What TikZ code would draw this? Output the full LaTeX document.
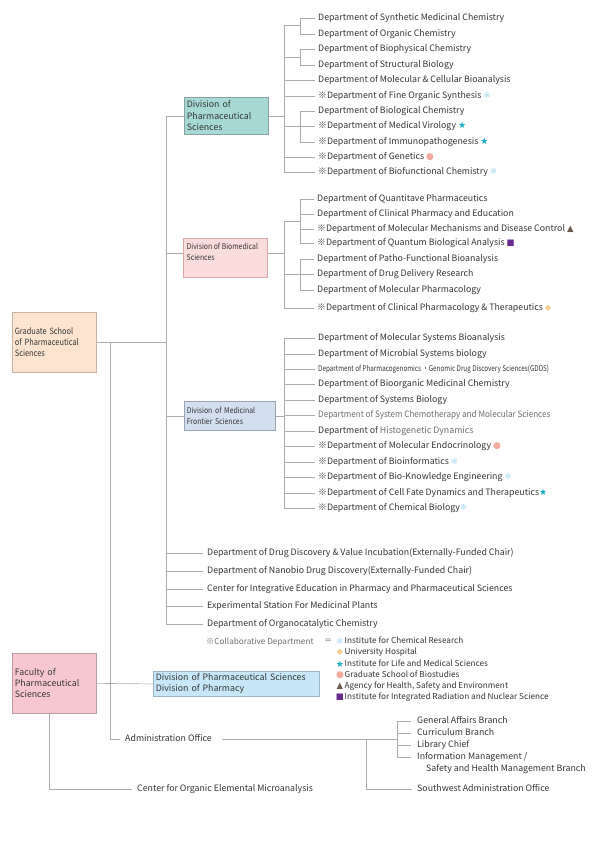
\documentclass[tikz,border=0pt]{standalone}
\usepackage{fontspec}
\usepackage{graphicx}
\setmainfont{Noto Sans CJK JP}
\newfontfamily\dejavu{DejaVu Sans}
\newfontfamily\condfont[FakeStretch=0.86]{Noto Sans CJK JP}
\newfontfamily\mcondfont[FakeStretch=0.92]{Noto Sans CJK JP}
\newfontfamily\vcondfont[FakeStretch=0.8]{Noto Sans CJK JP}
\usetikzlibrary{calc}
\definecolor{txt}{HTML}{353535}
\definecolor{ltxt}{HTML}{6E6E6E}
\definecolor{lncol}{HTML}{ABABAB}
\definecolor{csnow}{HTML}{A9DCF2}
\definecolor{cstar}{HTML}{16AFC6}
\definecolor{ccirc}{HTML}{F2A89A}
\definecolor{cdia}{HTML}{F9CF95}
\definecolor{ctri}{HTML}{6B5A4E}
\definecolor{csq}{HTML}{6A2C91}
\definecolor{fpharm}{HTML}{A6D8D4}
\definecolor{bpharm}{HTML}{8AA09E}
\definecolor{fbio}{HTML}{FBDCDC}
\definecolor{bbio}{HTML}{D9A8A8}
\definecolor{fmed}{HTML}{D3DEEF}
\definecolor{bmed}{HTML}{98A2B6}
\definecolor{fgrad}{HTML}{FDE4D0}
\definecolor{bgrad}{HTML}{C9B2A2}
\definecolor{ffac}{HTML}{F7C7D0}
\definecolor{bfac}{HTML}{B89CA2}
\definecolor{fpp}{HTML}{C7E7F8}
\definecolor{bpp}{HTML}{9FB6C2}
\newcommand\deptfont{\fontsize{8.8}{10}\selectfont}
\newcommand\smfont{\fontsize{8.2}{10}\selectfont}
\newcommand\symsnow{{\dejavu\fontsize{8.5}{8}\selectfont\textcolor{csnow}{❄}}}
\newcommand\symstar{{\dejavu\fontsize{9}{8}\selectfont\textcolor{cstar}{★}}}
\newcommand\symcirc{{\dejavu\fontsize{9}{8}\selectfont\textcolor{ccirc}{●}}}
\newcommand\symdia{{\dejavu\fontsize{8.5}{8}\selectfont\textcolor{cdia}{◆}}}
\newcommand\symtri{{\dejavu\fontsize{8.5}{8}\selectfont\textcolor{ctri}{▲}}}
\newcommand\symsq{{\dejavu\fontsize{8.5}{8}\selectfont\textcolor{csq}{■}}}
\newcommand\dtick[3][3pt]{\draw[ln] (#2.west -| #3) -- ([xshift=-#1]#2.west);}
\tikzset{
  ln/.style={draw=lncol, line width=0.6pt},
  dept/.style={anchor=west, inner sep=0pt, text height=6.5pt, text depth=1.8pt, text=txt, font=\deptfont},
  sm/.style={dept, font=\smfont},
  sym/.style={anchor=center, inner sep=0pt},
  box/.style={draw, line width=0.7pt, anchor=north west, inner sep=2.5pt, align=left, text=txt}
}
\begin{document}
\begin{tikzpicture}[x=1pt,y=-1pt]
\fill[white] (0,0) rectangle (595,842);
\useasboundingbox (0,0) rectangle (595,842);
% reference x positions
\coordinate (M) at (166,0);
\coordinate (L) at (110,0);
\coordinate (X) at (284,0);
\coordinate (Y) at (300,0);
\coordinate (F) at (49,0);
\coordinate (R1) at (397,0);
\coordinate (R2) at (366,0);
% ---------- boxes
\node[box, fill=fpharm, draw=bpharm, minimum width=84pt, minimum height=37pt, text width=79pt, font=\fontsize{8.8}{11.5}\selectfont] (p1) at (184,97) {Division of\\Pharmaceutical\\Sciences};
\node[box, fill=fbio, draw=bbio, minimum width=84pt, minimum height=39pt] (p2) at (183,238) {};
\node[anchor=base west, inner sep=0pt, align=left, text=txt, font=\condfont\fontsize{8}{10.3}\selectfont] (p2t) at (186.5,260) {Division of Biomedical\\Sciences};
\node[box, fill=fmed, draw=bmed, minimum width=91pt, minimum height=29pt, text width=86pt, font=\condfont\fontsize{8}{11}\selectfont] (p3) at (184,401) {Division of Medicinal\\Frontier Sciences};
\node[box, fill=fgrad, draw=bgrad, minimum width=84pt, minimum height=60pt, text width=79pt, font=\condfont\fontsize{8.6}{10.8}\selectfont] (g) at (12,312) {Graduate School\\of Pharmaceutical\\Sciences};
\node[box, fill=ffac, draw=bfac, minimum width=84pt, minimum height=60pt, text width=79pt, font=\fontsize{8.8}{11}\selectfont] (fac) at (12,653) {Faculty of\\Pharmaceutical\\Sciences};
\node[box, fill=fpp, draw=bpp, minimum width=166pt, minimum height=24pt, text width=161pt, font=\fontsize{8.8}{11}\selectfont] (pp) at (153,671) {Division of Pharmaceutical Sciences\\Division of Pharmacy};
% ---------- division 1
\node[dept] (a1) at (318,18) {Department of Synthetic Medicinal Chemistry};
\node[dept] (a2) at (318,34) {Department of Organic Chemistry};
\node[dept] (a3) at (318,49) {Department of Biophysical Chemistry};
\node[dept] (a4) at (318,65) {Department of Structural Biology};
\node[dept] (a5) at (318,80) {Department of Molecular \& Cellular Bioanalysis};
\node[dept] (a6) at (318,96) {※Department of Fine Organic Synthesis \symsnow};
\node[dept] (a7) at (318,111) {Department of Biological Chemistry};
\node[dept] (a8) at (318,126) {※Department of Medical Virology \symstar};
\node[dept] (a9) at (318,142) {※Department of Immunopathogenesis \symstar};
\node[dept] (a10) at (318,157) {※Department of Genetics \symcirc};
\node[dept] (a11) at (318,172) {※Department of Biofunctional Chemistry \symsnow};
\coordinate (jA) at (284,25);
\coordinate (jB) at (284,57);
\draw[ln] (jA) -- (a11.west -| X);
\draw[ln] (p1.east) -- (p1.east -| X);
\draw[ln] (jA) -- (jA -| Y);
\draw[ln] (jB) -- (jB -| Y);
\draw[ln] (a1.west -| Y) -- (a2.west -| Y);
\draw[ln] (a3.west -| Y) -- (a4.west -| Y);
\draw[ln] (a7.west -| Y) -- (a9.west -| Y);
\dtick{a1}{Y}\dtick{a2}{Y}\dtick{a3}{Y}\dtick{a4}{Y}
\dtick{a5}{X}\dtick{a6}{X}
\dtick{a7}{Y}\dtick{a8}{X}\dtick{a9}{Y}
\dtick{a10}{X}\dtick{a11}{X}
% ---------- division 2
\node[dept] (b1) at (317,199) {Department of Quantitave Pharmaceutics};
\node[dept] (b2) at (317,214) {Department of Clinical Pharmacy and Education};
\node[dept] (b3) at (317,229) {※Department of Molecular Mechanisms and Disease Control \symtri};
\node[dept] (b4) at (317,243) {※Department of Quantum Biological Analysis \symsq};
\node[dept] (b5) at (317,259) {Department of Patho-Functional Bioanalysis};
\node[dept] (b6) at (317,274) {Department of Drug Delivery Research};
\node[dept] (b7) at (317,290) {Department of Molecular Pharmacology};
\node[dept] (b8) at (317,308) {※Department of Clinical Pharmacology \& Therapeutics \symdia};
\coordinate (jC) at (284,221);
\coordinate (c2) at (0,253);
\draw[ln] (jC) -- (b8.west -| X);
\draw[ln] (jC) -- (jC -| Y);
\draw[ln] (b1.west -| Y) -- (b4.west -| Y);
\draw[ln] (b5.west -| Y) -- (b7.west -| Y);
\draw[ln] (c2 -| p2.east) -- (c2 -| X);
\dtick{b1}{Y}\dtick{b2}{Y}\dtick{b3}{Y}\dtick{b4}{Y}
\dtick{b5}{Y}\dtick{b6}{X}\dtick{b7}{Y}\dtick{b8}{X}
% ---------- division 3
\node[dept] (m1) at (318,338) {Department of Molecular Systems Bioanalysis};
\node[dept] (m2) at (318,354) {Department of Microbial Systems biology};
\node[dept, font=\vcondfont\fontsize{7.9}{10}\selectfont] (m3) at (318,369) {Department of Pharmacogenomics\ ・Genomic Drug Discovery Sciences(GDDS)};
\node[dept] (m4) at (318,384) {Department of Bioorganic Medicinal Chemistry};
\node[dept] (m5) at (318,400) {Department of Systems Biology};
\node[dept, text=ltxt, font=\mcondfont\fontsize{8.8}{10}\selectfont] (m6) at (318,415) {Department of System Chemotherapy and Molecular Sciences};
\node[dept] (m7) at (318,431) {Department of \textcolor{ltxt}{Histogenetic Dynamics}};
\node[dept] (m8) at (318,446) {※Department of Molecular Endocrinology \symcirc};
\node[dept] (m9) at (318,462) {※Department of Bioinformatics \symsnow};
\node[dept] (m10) at (318,477) {※Department of Bio-Knowledge Engineering \symsnow};
\node[dept] (m11) at (318,493) {※Department of Cell Fate Dynamics and Therapeutics\symstar};
\node[dept] (m12) at (318,508) {※Department of Chemical Biology\symsnow};
\draw[ln] (m1.west -| X) -- (m12.west -| X);
\draw[ln] (p3.east) -- (p3.east -| X);
\foreach \i in {1,...,12}{\dtick{m\i}{X}}
% ---------- bottom list
\node[dept] (e1) at (207,553) {Department of Drug Discovery \& Value Incubation(Externally-Funded Chair)};
\node[dept] (e2) at (207,571) {Department of Nanobio Drug Discovery(Externally-Funded Chair)};
\node[dept] (e3) at (207,589) {Center for Integrative Education in Pharmacy and Pharmaceutical Sciences};
\node[dept] (e4) at (207,606) {Experimental Station For Medicinal Plants};
\node[dept] (e5) at (207,624) {Department of Organocatalytic Chemistry};
\foreach \i in {1,...,5}{\dtick[4pt]{e\i}{M}}
% ---------- main trunk
\draw[ln] (p1.west -| M) -- (e5.west -| M);
\draw[ln] (p1.west -| M) -- (p1.west);
\draw[ln] (c2 -| M) -- (c2 -| p2.west);
\draw[ln] (p3.west -| M) -- (p3.west);
\draw[ln] (g.east) -- (g.east -| M);
% ---------- legend
\node[sm, text=ltxt] (lg) at (206,642) {※Collaborative Department};
\node[sm, text=ltxt] (eq) at (324,641) {＝};
\node[sym] (s1) at (340,641) {\symsnow};
\node[sym] (s2) at (340,652) {\symdia};
\node[sym] (s3) at (340,664) {\symstar};
\node[sym] (s4) at (340,675) {\symcirc};
\node[sym] (s5) at (340,686) {\symtri};
\node[sym] (s6) at (340,697) {\symsq};
\node[sm] (l1) at (344.5,641) {Institute for Chemical Research};
\node[sm] (l2) at (344.5,652) {University Hospital};
\node[sm] (l3) at (344.5,664) {Institute for Life and Medical Sciences};
\node[sm] (l4) at (344.5,675) {Graduate School of Biostudies};
\node[sm] (l5) at (344.5,686) {Agency for Health, Safety and Environment};
\node[sm] (l6) at (344.5,697) {Institute for Integrated Radiation and Nuclear Science};
% ---------- faculty
\draw[ln] (fac.east) -- (pp.west);
\node[dept] (cen) at (137,789) {Center for Organic Elemental Microanalysis};
\draw[ln] (F |- fac.south) -- (F |- cen.west) -- ([xshift=-5pt]cen.west);
% ---------- administration
\node[dept] (adm) at (125,739) {Administration Office};
\draw[ln] (g.east -| L) -- (adm.west -| L) -- ([xshift=-5pt]adm.west);
\node[dept] (f1) at (417,721) {General Affairs Branch};
\node[dept] (f2) at (417,733) {Curriculum Branch};
\node[dept] (f3) at (417,745) {Library Chief};
\node[dept] (f4) at (417,757) {Information Management /};
\node[dept] (f5) at (426,769) {Safety and Health Management Branch};
\node[dept] (sw) at (417,789) {Southwest Administration Office};
\draw[ln] ([xshift=10pt]adm.east) -- (adm.east -| R1);
\draw[ln] (f1.west -| R1) -- (f4.west -| R1);
\foreach \i in {1,...,4}{\dtick[6pt]{f\i}{R1}}
\draw[ln] (adm.east -| R2) -- (sw.west -| R2) -- ([xshift=-5pt]sw.west);
\end{tikzpicture}
\end{document}
